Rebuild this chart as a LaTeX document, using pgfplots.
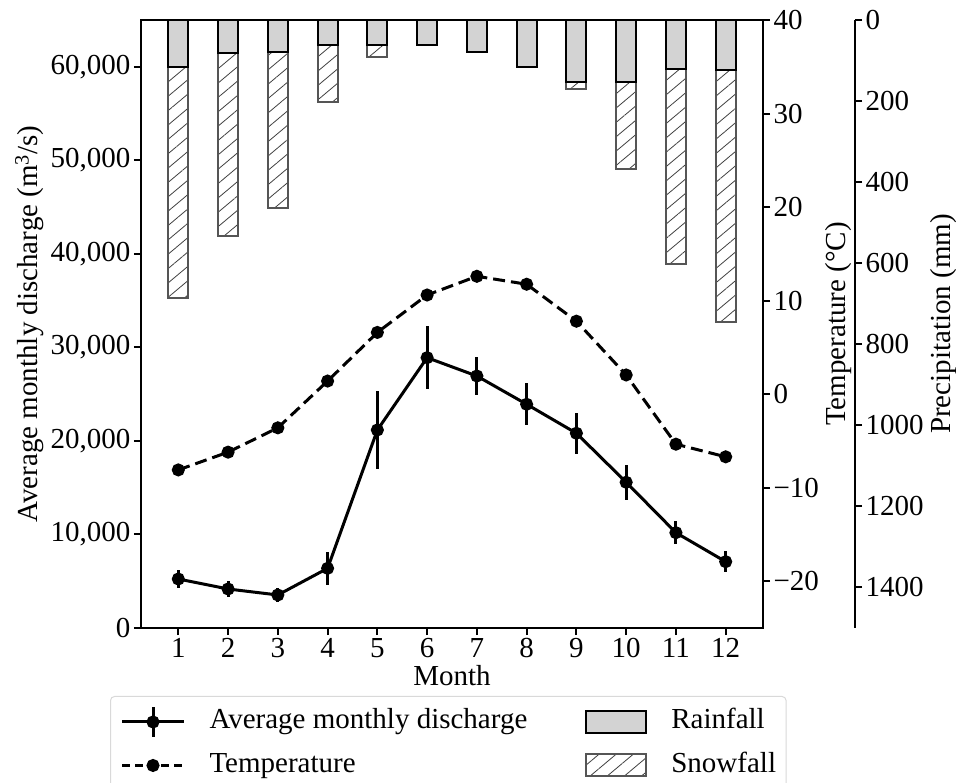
\documentclass[border=0pt]{standalone}
\usepackage{fontspec}
\setmainfont{Liberation Serif}
\usepackage{pgfplots}
\usepackage{pgfplotstable}
\pgfplotsset{compat=1.18}
\usetikzlibrary{patterns.meta}

\definecolor{raingray}{HTML}{D3D3D3}
\definecolor{snowedge}{HTML}{555555}

% month, rainfall (mm), snowfall (mm), discharge (m3/s), discharge error, temperature (C)
\pgfplotstableread{
m  rain snow  q      qerr  t
1  115  571   5240   950   -8.1
2  82   451   4170   850   -6.2
3  78   386   3530   700   -3.6
4  62   140   6380   1750  1.4
5  61   30    21170  4200  6.6
6  61   0     28900  3350  10.6
7  80   0     26940  2080  12.6
8  115  0     23920  2270  11.75
9  152  18    20820  2200  7.8
10 154  214   15580  1870  2.05
11 122  480   10190  1210  -5.35
12 123  622   7090   1140  -6.7
}\climate

\pgfplotsset{
  base/.style={
    scale only axis, width=622bp, height=608bp,
    xmin=0.25, xmax=12.75,
    font=\fontsize{29bp}{35bp}\selectfont,
    axis line style={line width=2bp},
    tick style={line width=2bp, black},
    major tick length=7bp,
    tick align=outside,
    /pgf/number format/assume math mode=true,
    /pgf/number format/1000 sep={},
  },
  linelegend/.style={legend image code/.code={
    \draw[sharp corners, mark repeat=2, mark phase=2, ##1] plot coordinates {(0bp,0bp) (31bp,0bp) (62bp,0bp)};}},
  errlegend/.style={legend image code/.code={
    \draw[sharp corners, mark repeat=2, mark phase=2, ##1] plot coordinates {(0bp,0bp) (31bp,0bp) (62bp,0bp)};
    \draw[black, line width=3bp] (31bp,-15bp) -- (31bp,15bp);}},
  barlegend/.style={legend image code/.code={
    \draw[sharp corners, ##1] (0bp,-11bp) rectangle (60bp,11bp);}},
}

\begin{document}
\begin{tikzpicture}
\path[use as bounding box] (-141bp,-155bp) rectangle (815bp,628bp);

% precipitation bars hanging from the top
\begin{axis}[base, hide axis, ymin=0, ymax=1500, y dir=reverse]
  \addplot[ybar, bar width=0.4, bar shift=0pt, draw=snowedge, line width=2bp,
    pattern={Lines[angle=40, distance=11bp, line width=0.8bp]}, pattern color=black!75]
    table[x=m, y expr=\thisrow{rain}+\thisrow{snow}] {\climate};
  \addplot[ybar, bar width=0.4, bar shift=0pt, draw=black, line width=2bp, fill=raingray]
    table[x=m, y=rain] {\climate};
\end{axis}

% temperature
\begin{axis}[base, hide x axis, axis y line*=right, y axis line style={-},
  ymin=-25, ymax=40, ytick={-20,-10,0,10,20,30,40},
  yticklabels={−20,−10,0,10,20,30,40},
  ylabel={Temperature (°C)}, ylabel near ticks]
  \addplot[black, line width=3bp, dash pattern=on 12bp off 6bp,
    mark=*, mark size=5bp, mark options={solid}]
    table[x=m, y=t] {\climate};
\end{axis}

% discharge
\begin{axis}[base, tick pos=left,
  ymin=0, ymax=65000, scaled y ticks=false,
  ytick={0,10000,20000,30000,40000,50000,60000},
  yticklabels={0,{10,000},{20,000},{30,000},{40,000},{50,000},{60,000}},
  xtick={1,...,12},
  xlabel={Month},
  ylabel={Average monthly discharge (m\textsuperscript{3}/s)},
  ylabel near ticks,
  legend columns=2,
  legend cell align=left,
  legend style={at={(axis description cs:-0.0498,-0.1118)}, anchor=north west,
    draw=black!15, rounded corners=4bp, line width=1bp,
    inner xsep=10bp, inner ysep=9bp,
    nodes={inner sep=0bp, text height=21bp, text depth=7bp},
    row sep=13bp,
    /tikz/every odd column/.append style={column sep=24bp},
    /tikz/every even column/.append style={column sep=58bp}},
]
  \addplot[black, line width=3bp, mark=*, mark size=5bp, errlegend,
    error bars/.cd, y dir=both, y explicit, error mark=none,
    error bar style={line width=3bp}]
    table[x=m, y=q, y error=qerr] {\climate};
  \addlegendentry{Average monthly discharge}
  \addlegendimage{barlegend, draw=black, line width=2bp, fill=raingray}
  \addlegendentry{Rainfall}
  \addlegendimage{linelegend, black, line width=3bp, dash pattern=on 8bp off 5bp,
    mark=*, mark size=5bp, mark options={solid}}
  \addlegendentry{Temperature}
  \addlegendimage{barlegend, draw=snowedge, line width=2bp,
    pattern={Lines[angle=40, distance=11bp, line width=0.8bp]}, pattern color=black!75}
  \addlegendentry{Snowfall}
\end{axis}

% precipitation scale
\begin{axis}[base, at={(92bp,0bp)}, hide x axis, axis y line*=right, y axis line style={-},
  ymin=0, ymax=1500, y dir=reverse,
  ytick={0,200,...,1400},
  ylabel={Precipitation (mm)}, ylabel near ticks]
\end{axis}
\end{tikzpicture}
\end{document}
